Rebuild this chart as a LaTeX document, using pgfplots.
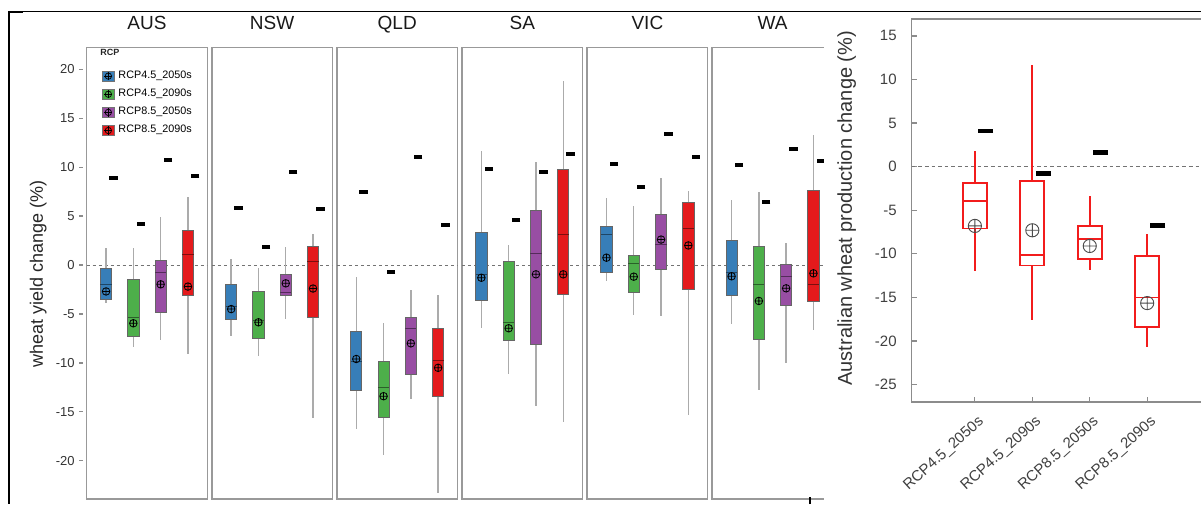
\documentclass[border=0pt]{standalone}
\usepackage{pgfplots}
\pgfplotsset{compat=1.18}
\usepgfplotslibrary{statistics}
\usetikzlibrary{plotmarks}
\usepackage{fontspec}
\setmainfont{Liberation Sans}
\definecolor{cblue}{HTML}{377EB8}
\definecolor{cgreen}{HTML}{4DAF4A}
\definecolor{cpurple}{HTML}{984EA3}
\definecolor{cred}{HTML}{E41A1C}
\definecolor{rred}{RGB}{242,28,28}

\newcommand{\bx}[9]{%
 \addplot[boxplot prepared={draw direction=y, draw position=#1, lower whisker=#3, lower quartile=#4, median=#5, upper quartile=#6, upper whisker=#7, box extend=0.41, whisker extend=0, every box/.style={draw=black!60, fill=#2, line width=0.4pt}, every whisker/.style={draw=black!33, line width=0.7pt}, every median/.style={draw=#2!55!black, line width=0.5pt}}] coordinates {};
 \addplot[only marks, mark=oplus, mark size=1.9pt, mark options={draw=black, line width=0.4pt}] coordinates {(#1,#8)};
 \pgfmathsetmacro\mydx{#1+0.27}
 \addplot[only marks, mark=-, mark size=2.1pt, mark options={draw=black, line width=2pt}] coordinates {(\mydx,#9)};
}
\newcommand{\rbx}[8]{%
 \addplot[boxplot prepared={draw direction=y, draw position=#1, lower whisker=#2, lower quartile=#3, median=#4, upper quartile=#5, upper whisker=#6, box extend=0.418, whisker extend=0, every box/.style={draw=rred, fill=none, line width=0.9pt}, every whisker/.style={draw=rred, line width=0.9pt}, every median/.style={draw=rred, line width=0.9pt}}] coordinates {};
 \addplot[only marks, mark=oplus, mark size=3.3pt, mark options={draw=black!70, line width=0.45pt}] coordinates {(#1,#7)};
 \pgfmathsetmacro\mydx{#1+0.186}
 \addplot[only marks, mark=-, mark size=3.75pt, mark options={draw=black, line width=2.4pt}] coordinates {(\mydx,#8)};
}
\pgfplotsset{
 panel/.style={width=60.3pt, height=225.65pt, scale only axis, anchor=south west,
  xmin=0.29, xmax=4.71, ymin=-23.9, ymax=22.2,
  axis line style={draw=black!40, line width=0.75pt},
  xtick=\empty, ytick=\empty,
  title style={font=\fontsize{9.5}{10}\selectfont, color=black!90, at={(0.5,1)}, anchor=base, inner sep=0pt, yshift=3pt}},
 zeroline/.style={black!55, line width=0.5pt, dash pattern=on 1.5pt off 1.5pt},
 legbox/.style={legend image code/.code={
   \draw[draw=black!55, fill=#1, line width=0.3pt] (0pt,-2.6pt) rectangle (6pt,2.6pt);
   \draw[black, line width=0.35pt] (3pt,0pt) circle (1.6pt);
   \draw[black, line width=0.35pt] (1pt,0pt)--(5pt,0pt) (3pt,-2.1pt)--(3pt,2.1pt);}}
}

\begin{document}
\begin{tikzpicture}
\useasboundingbox (0,0) rectangle (600.5pt,252pt);
\clip (0,0) rectangle (600.5pt,252pt);

% ---------- AUS ----------
\begin{axis}[panel, at={(43.35pt,2.5pt)}, title=AUS,
  ytick={-20,-15,-10,-5,0,5,10,15,20}, ytick pos=left, tick align=outside,
  major tick length=2pt, ytick style={draw=black!45, line width=0.6pt, xshift=-1.7pt},
  yticklabel style={font=\fontsize{6.5}{7}\selectfont, color=black!80, xshift=-0.5pt},
  /pgf/number format/assume math mode=true,
  legend style={at={(0.124,0.958)}, anchor=north west, draw=none, fill=none,
    font=\fontsize{5.4}{6}\selectfont, inner sep=0pt, row sep=0pt, nodes={inner sep=1.9pt}},
  legend cell align=left]
\addlegendimage{legbox=cblue}\addlegendentry{RCP4.5\_2050s}
\addlegendimage{legbox=cgreen}\addlegendentry{RCP4.5\_2090s}
\addlegendimage{legbox=cpurple}\addlegendentry{RCP8.5\_2050s}
\addlegendimage{legbox=cred}\addlegendentry{RCP8.5\_2090s}
\addplot[zeroline] coordinates {(0.29,0) (4.71,0)};
\bx{1}{cblue}{-3.85}{-3.5}{-2.04}{-0.34}{1.7}{-2.7}{8.85}
\bx{2}{cgreen}{-8.4}{-7.3}{-5.4}{-1.46}{1.7}{-5.95}{4.2}
\bx{3}{cpurple}{-7.65}{-4.8}{-0.78}{0.44}{4.87}{-1.97}{10.75}
\bx{4}{cred}{-9.1}{-3.1}{1.12}{3.57}{6.97}{-2.2}{9.08}
\node[font=\bfseries\fontsize{4.5}{5}\selectfont, anchor=west, inner sep=0pt, color=black!85] at (rel axis cs:0.11,0.99) {RCP};
\end{axis}

% ---------- NSW ----------
\begin{axis}[panel, at={(105.9pt,2.5pt)}, title=NSW]
\addplot[zeroline] coordinates {(0.29,0) (4.71,0)};
\bx{1}{cblue}{-7.25}{-5.6}{-4.25}{-2.0}{0.6}{-4.5}{5.78}
\bx{2}{cgreen}{-9.3}{-7.5}{-5.7}{-2.7}{-0.34}{-5.85}{1.84}
\bx{3}{cpurple}{-5.5}{-3.1}{-2.8}{-0.92}{1.87}{-1.87}{9.46}
\bx{4}{cred}{-15.65}{-5.34}{0.34}{1.87}{3.13}{-2.4}{5.68}
\end{axis}

% ---------- QLD ----------
\begin{axis}[panel, at={(168.45pt,2.5pt)}, title=QLD]
\addplot[zeroline] coordinates {(0.29,0) (4.71,0)};
\bx{1}{cblue}{-16.7}{-12.8}{-9.87}{-6.8}{-1.26}{-9.6}{7.48}
\bx{2}{cgreen}{-19.4}{-15.6}{-12.5}{-9.87}{-5.9}{-13.4}{-0.75}
\bx{3}{cpurple}{-13.7}{-11.2}{-6.5}{-5.3}{-2.6}{-8.0}{11.0}
\bx{4}{cred}{-23.3}{-13.4}{-9.8}{-6.5}{-3.06}{-10.5}{4.08}
\end{axis}

% ---------- SA ----------
\begin{axis}[panel, at={(231pt,2.5pt)}, title=SA]
\addplot[zeroline] coordinates {(0.29,0) (4.71,0)};
\bx{1}{cblue}{-6.4}{-3.64}{-0.92}{3.3}{11.66}{-1.3}{9.76}
\bx{2}{cgreen}{-11.1}{-7.72}{-5.9}{0.41}{2.04}{-6.46}{4.62}
\bx{3}{cpurple}{-14.4}{-8.1}{1.19}{5.6}{10.54}{-0.95}{9.49}
\bx{4}{cred}{-16.05}{-3.0}{3.16}{9.8}{18.8}{-0.95}{11.3}
\end{axis}

% ---------- VIC ----------
\begin{axis}[panel, at={(293.55pt,2.5pt)}, title=VIC]
\addplot[zeroline] coordinates {(0.29,0) (4.71,0)};
\bx{1}{cblue}{-1.63}{-0.78}{3.13}{3.9}{6.87}{0.75}{10.34}
\bx{2}{cgreen}{-5.07}{-2.83}{0.17}{0.95}{6.0}{-1.19}{8.0}
\bx{3}{cpurple}{-5.2}{-0.41}{2.1}{5.2}{8.84}{2.6}{13.4}
\bx{4}{cred}{-15.3}{-2.48}{3.74}{6.43}{7.58}{2.0}{11.05}
\end{axis}

% ---------- WA ----------
\begin{axis}[panel, at={(356.1pt,2.5pt)}, title=WA]
\addplot[zeroline] coordinates {(0.29,0) (4.71,0)};
\bx{1}{cblue}{-6.0}{-3.1}{-0.75}{2.48}{6.63}{-1.15}{10.2}
\bx{2}{cgreen}{-12.76}{-7.6}{-1.94}{1.94}{7.45}{-3.67}{6.4}
\bx{3}{cpurple}{-9.97}{-4.1}{-1.19}{0.1}{2.28}{-2.38}{11.9}
\bx{4}{cred}{-6.63}{-3.74}{-1.94}{7.58}{13.27}{-0.85}{10.64}
\end{axis}

\node[rotate=90, font=\fontsize{9}{10}\selectfont, color=black!85] at (19.15pt,115pt) {wheat yield change (\%)};

% cover for the right figure
\fill[white] (412pt,0pt) rectangle (600.5pt,245.6pt);

% ---------- right panel ----------
\begin{axis}[at={(455.85pt,51pt)}, anchor=south west, width=169.15pt, height=191.5pt, scale only axis,
  xmin=-0.1, xmax=5.79, ymin=-27, ymax=16.94,
  axis line style={draw=black!45, line width=0.75pt},
  ytick={-25,-20,-15,-10,-5,0,5,10,15}, xtick={1,2,3,4},
  xticklabels={{RCP4.5\_2050s},{RCP4.5\_2090s},{RCP8.5\_2050s},{RCP8.5\_2090s}},
  tick align=inside, xtick pos=bottom, ytick pos=left, major tick length=2.5pt,
  tick style={draw=black!45, line width=0.6pt},
  yticklabel style={font=\fontsize{7.5}{8}\selectfont, color=black!75, xshift=-4pt},
  xticklabel style={font=\fontsize{7.5}{8}\selectfont, color=black!75, xshift=6pt, yshift=-6.5pt, rotate=42, anchor=east},
  /pgf/number format/assume math mode=true]
\addplot[black!55, line width=0.6pt, dash pattern=on 1.8pt off 1.5pt] coordinates {(-0.1,0) (5.79,0)};
\rbx{1}{-12.0}{-7.1}{-3.9}{-1.9}{1.8}{-6.8}{4.1}
\rbx{2}{-17.6}{-11.35}{-10.1}{-1.6}{11.7}{-7.3}{-0.76}
\rbx{3}{-11.85}{-10.55}{-8.3}{-6.8}{-3.4}{-9.1}{1.6}
\rbx{4}{-20.7}{-18.4}{-15.0}{-10.25}{-7.7}{-15.65}{-6.75}
\end{axis}

\node[rotate=90, font=\fontsize{10}{11}\selectfont, color=black!80] at (423.35pt,147.85pt) {Australian wheat production change (\%)};

% outer frame lines
\draw[black, line width=0.65pt] (4.15pt,246.15pt) -- (600.5pt,246.15pt);
\draw[black, line width=1.1pt] (4.15pt,246.15pt) -- (11.5pt,246.15pt);
\draw[black, line width=1pt] (4.6pt,246.6pt) -- (4.6pt,0pt);
\draw[black, line width=0.6pt] (405pt,0pt) -- (405pt,3.5pt);
\end{tikzpicture}
\end{document}
